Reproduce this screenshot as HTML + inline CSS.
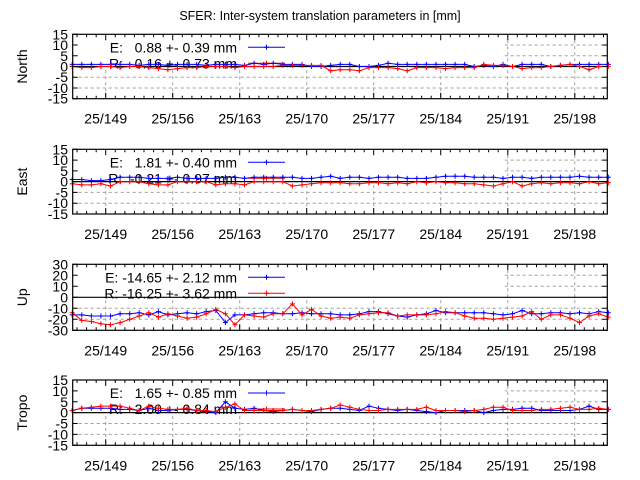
<!DOCTYPE html>
<html><head><meta charset="utf-8"><style>
body{margin:0;background:#fff}
svg{display:block;font-family:"Liberation Sans",sans-serif}
text{white-space:pre}
</style></head><body>
<svg id="chart" width="640" height="480" viewBox="0 0 640 480">
<rect width="640" height="480" fill="#fff"/>
<text x="320" y="20" font-size="12.5" text-anchor="middle">SFER: Inter-system translation parameters in [mm]</text>
</svg>
<script>
const xDays = [];
for (let k = 0; k < 57; k++) xDays.push(145.5 + k);
const xTickDays = [149,156,163,170,177,184,191,198];
const xTickLabels = ["25/149","25/156","25/163","25/170","25/177","25/184","25/191","25/198"];
const panelNames = ["North","East","Up","Tropo"];
const legendE = ["E:   0.88 +- 0.39 mm","E:   1.81 +- 0.40 mm","E: -14.65 +- 2.12 mm","E:   1.65 +- 0.85 mm"];
const legendR = ["R:   0.16 +- 0.73 mm","R:  -0.21 +- 0.97 mm","R: -16.25 +- 3.62 mm","R:   2.00 +- 0.84 mm"];
const yTicksSmall = [15,10,5,0,-5,-10,-15];
const yTicksUp = [30,20,10,0,-10,-20,-30];
const northE = [1,1,1,1,1,1,1,0.5,1,1, 0.5,1,1,1,0.5,1,1,1,0.5,1.5, 1,1.5,1,1,1,0,0,0.5,1,1, 0,0,0.5,1.5,1,1,1,1,1,1, 1,1,0,0.5,0,1,0,1,1,1, 0,0.5,1,1,1,1,1];
const northR = [0,-0.5,-0.5,0,0,-0.5,0,0,-0.5,-1, -1.5,-1,-0.5,-0.5,0,0,0,-0.5,0,0, 0,0,0.5,0.5,0.5,0.5,0.5,-2,-1.5,-1.5, -2,-0.5,-0.5,-0.5,-1,-2,-0.5,-0.5,-0.5,-1, -0.5,-0.5,-0.5,1,0.5,0.5,0,-1,-0.5,-0.5, 0,0.5,1,0,-1.5,0,0];
const eastE = [1,1,0.5,0.5,1,2,2,2,1.5,1.5, 1.5,2,1.5,1.5,1.5,1.5,2,2,1.5,2, 2,2,2,2,1.5,1.5,2,2.5,1.5,2, 2,1.5,2,2,2,1.5,1.5,1.5,2,2.5, 2.5,2.5,2,2,2,1.5,2,2,1.5,2, 2,2,2,2.5,2,2,2];
const eastR = [-1,-1.5,-1.5,-1,-2,0,0,0,-1,-1.5, -1.5,0,0,0,0,-1.5,-1,-1,-1.5,0, 0,0,0,-2,-1.5,-1,-0.5,-0.5,-0.5,-1, -1,-0.5,-0.5,-1,-0.5,-1,0,-0.5,0,-0.5, -0.5,-1,-1,-1.5,-2,-1,0,-2,-1,-0.5, -1,-0.5,-0.5,-1,0,-1,-0.5];
const upE = [-16,-16,-17,-17,-17,-15,-15,-14,-16,-13, -16,-15,-14,-15,-13,-12,-23,-16,-16,-15, -14,-14,-15,-15,-14,-15,-15,-15,-16,-16, -15,-13,-13,-15,-17,-18,-16,-15,-12,-14, -14,-14,-14,-14,-15,-16,-15,-12,-15,-15, -14,-14,-15,-14,-15,-13,-14];
const upR = [-14,-21,-22,-24,-25,-23,-20,-17,-14,-18, -15,-17,-19,-18,-15,-11,-15,-25,-16,-17, -18,-15,-15,-6,-16,-11,-17,-19,-18,-19, -16,-15,-14,-14,-17,-16,-16,-16,-15,-13, -14,-17,-19,-19,-20,-19,-18,-17,-13,-20, -16,-16,-19,-23,-17,-15,-18];
const tropoE = [1,2,2,2,2,1.5,1.5,1,2,1, 1,1.5,1.5,1,0.5,0,5,2,1.5,2, 1,0.5,1,1.5,1,0.5,1.5,2,2,1.5, 1,3,2,1.5,1,1.5,1,0.5,0,1, 1,1,1,0,1,1.5,1.5,2,2,1, 1,1,1,1.5,3,1.5,1.5];
const tropoR = [1,2,2.5,3,3,3,2,1,3,2, 1.5,1.5,2,1,1,0.5,2.5,4,1,1, 1,1,1,1.5,1,1,1.5,2,3.5,2.5, 1.5,1,1,1.5,1.5,1.5,1.5,2.5,1,1, 1,0.5,1,1.5,2.5,2.5,1,1,1,1.5, 1.5,2,2.5,1.5,1.5,2,1.5];

const NS = "http://www.w3.org/2000/svg";
const svg = document.getElementById("chart");
function mk(tag, attrs, parent) {
  const e = document.createElementNS(NS, tag);
  for (const k in attrs) e.setAttribute(k, attrs[k]);
  (parent || svg).appendChild(e);
  return e;
}
const X0 = 72.7, X1 = 607.3, D0 = 145.55, D1 = 201.4;
function xs(d) { return X0 + (d - D0) / (D1 - D0) * (X1 - X0); }

const panels = [
  {top:34.3, bot:98.7, ymax:15, ymin:-15, ticks:yTicksSmall, e:northE, r:northR},
  {top:149.3, bot:214, ymax:15, ymin:-15, ticks:yTicksSmall, e:eastE, r:eastR},
  {top:264.3, bot:330.3, ymax:30, ymin:-30, ticks:yTicksUp, e:upE, r:upR},
  {top:380, bot:445.3, ymax:15, ymin:-15, ticks:yTicksSmall, e:tropoE, r:tropoR}
];

panels.forEach((p, i) => {
  const g = mk("g", {});
  
  
  const ys = v => p.bot - (v - p.ymin) / (p.ymax - p.ymin) * (p.bot - p.top);
  p.ticks.forEach(t => {
    if (t === p.ymax || t === p.ymin || t === 0) return;
    const l = mk("line", {x1:X0, x2:X1, y1:ys(t), y2:ys(t), stroke:"#a0a0a0", "stroke-dasharray":"3,3", "stroke-width":1}, g);
    
    
  });
  xTickDays.forEach(d => {
    const l = mk("line", {x1:xs(d), x2:xs(d), y1:p.top, y2:p.bot, stroke:"#a0a0a0", "stroke-dasharray":"3,3", "stroke-width":1}, g);
    
    
  });
  const lb = mk("rect", {x:X0, y:p.top, width:432, height:35, fill:"#fff"}, g);
  
  
  const z = mk("line", {x1:X0, x2:X1, y1:ys(0), y2:ys(0), stroke:"#000", "stroke-width":1.2}, g);
  
  
  const rows = [[legendE[i], "#0000ff"], [legendR[i], "#ff0000"]];
  rows.forEach((row, j) => {
    const ly = p.top + 13 + j * 16;
    const t = mk("text", {x:237, y:ly + 5, "font-size":14, "text-anchor":"end", fill:"#000"}, g);
    t.textContent = row[0];
    
    
    const s = mk("line", {x1:248, x2:285, y1:ly, y2:ly, stroke:row[1], "stroke-width":1}, g);
    
    
    const m = mk("path", {d:`M${266.5-2.5},${ly}h5M266.5,${ly-2.5}v5`, stroke:row[1], "stroke-width":1}, g);
    
    
  });
  [[p.e, "#0000ff", "series-e"], [p.r, "#ff0000", "series-r"]].forEach(([vals, col, nm]) => {
    let d = "", mks = "";
    vals.forEach((v, k) => {
      const x = xs(xDays[k]), y = ys(v);
      d += (k ? "L" : "M") + x.toFixed(1) + "," + y.toFixed(1);
      mks += `M${(x-2.5).toFixed(1)},${y.toFixed(1)}h5M${x.toFixed(1)},${(y-2.5).toFixed(1)}v5`;
    });
    const l = mk("path", {d:d, fill:"none", stroke:col, "stroke-width":1}, g);
    
    
    const mm = mk("path", {d:mks, fill:"none", stroke:col, "stroke-width":1}, g);
    
    
  });
  const fr = mk("rect", {x:X0, y:p.top, width:X1-X0, height:p.bot-p.top, fill:"none", stroke:"#000", "stroke-width":1.2}, g);
  
  
  let tk = "";
  for (let d = 146; d <= 201; d++) {
    const len = xTickDays.includes(d) ? 6 : 3;
    tk += `M${xs(d).toFixed(1)},${p.bot}v${-len}M${xs(d).toFixed(1)},${p.top}v${len}`;
  }
  p.ticks.forEach(t => { tk += `M${X0},${ys(t)}h5M${X1},${ys(t)}h-5`; });
  const tp = mk("path", {d:tk, stroke:"#000", "stroke-width":1}, g);
  
  
  p.ticks.forEach(t => {
    const tl = mk("text", {x:68, y:ys(t) + 5, "font-size":14, "text-anchor":"end"}, g);
    tl.textContent = t;
    
    
  });
  xTickDays.forEach((d, k) => {
    const tl = mk("text", {x:xs(d), y:p.bot + 25, "font-size":14, "text-anchor":"middle"}, g);
    tl.textContent = xTickLabels[k];
    
    
  });
  const cy = (p.top + p.bot) / 2;
  const at = mk("text", {x:0, y:0, "font-size":14, "text-anchor":"middle", transform:`translate(27,${cy}) rotate(-90)`}, g);
  at.textContent = panelNames[i];
  
  
});
</script>
</body></html>
